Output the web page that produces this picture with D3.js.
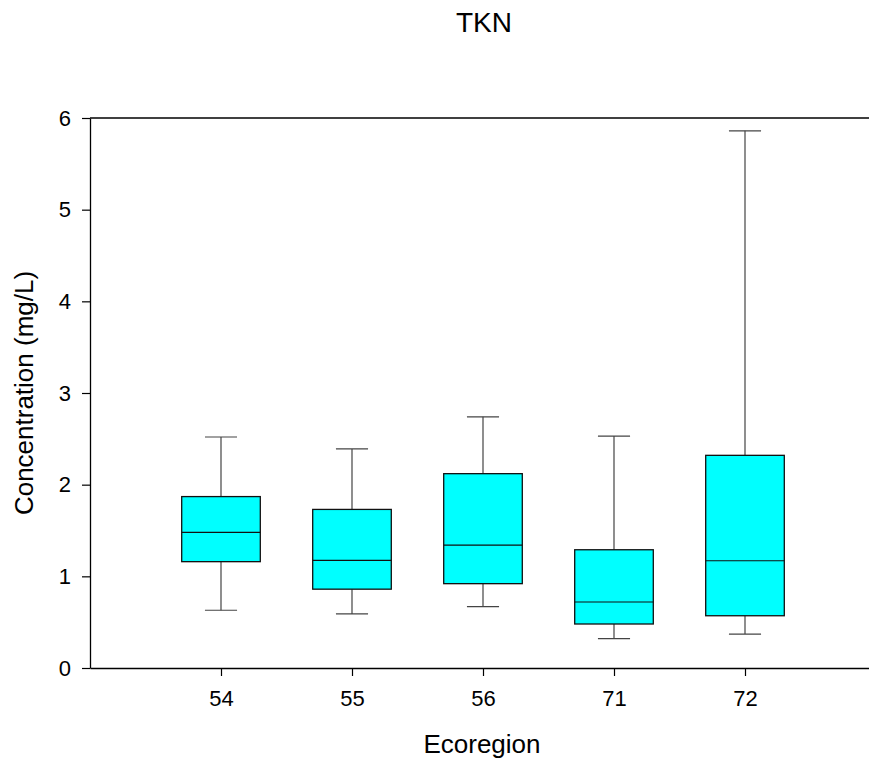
<!DOCTYPE html>
<html>
<head>
<meta charset="utf-8">
<script src="https://cdn.jsdelivr.net/npm/d3@7"></script>
<style>
  body { margin: 0; background: #fff; }
  svg text { font-family: Arial, "Liberation Sans", sans-serif; fill: #000; }
</style>
</head>
<body>
<svg id="chart" width="869" height="764"></svg>
<script>
// ecoregion boxes (mg/L)
var regions = ['54', '55', '56', '71', '72'];
var whiskerLow = [0.63, 0.59, 0.67, 0.32, 0.37];
var q1 = [1.16, 0.86, 0.92, 0.48, 0.57];
var median = [1.48, 1.175, 1.34, 0.72, 1.17];
var q3 = [1.87, 1.73, 2.12, 1.29, 2.32];
var whiskerHigh = [2.52, 2.39, 2.74, 2.53, 5.86];
var yTicks = [0, 1, 2, 3, 4, 5, 6];

var svg = d3.select('#chart');

// plot frame
var plotLeft = 90, plotTop = 118, plotBottom = 668;

var x = d3.scaleLinear().domain([0, 6]).range([plotLeft, plotLeft + 786]);
var y = d3.scaleLinear().domain([0, 6]).range([plotBottom, plotTop]);

var boxW = 0.6, capW = 0.245;

// title
svg.append('text')
  .attr('x', 484).attr('y', 25)
  .attr('text-anchor', 'middle')
  .attr('dominant-baseline', 'middle')
  .style('font-size', '28px')
  .text('TKN');

// top border line
svg.append('line')
  .attr('x1', plotLeft).attr('x2', x(6))
  .attr('y1', plotTop).attr('y2', plotTop)
  .attr('stroke', '#000').attr('stroke-width', 1.3);

// y axis
var yAxis = svg.append('g')
  .attr('transform', 'translate(' + plotLeft + ',0)')
  .call(d3.axisLeft(y).tickValues(yTicks).tickFormat(d3.format('d'))
    .tickSize(8).tickPadding(11).tickSizeOuter(0));

// x axis
var xAxis = svg.append('g')
  .attr('transform', 'translate(0,' + plotBottom + ')')
  .call(d3.axisBottom(x).tickValues([1, 2, 3, 4, 5])
    .tickFormat(function(d){ return regions[d - 1]; })
    .tickSize(8).tickPadding(14).tickSizeOuter(0));

[yAxis, xAxis].forEach(function(ax){
  ax.select('.domain').attr('stroke', '#000').attr('stroke-width', 1.3);
  ax.selectAll('.tick line').attr('stroke', '#000').attr('stroke-width', 1.2);
  ax.selectAll('.tick text').style('font-size', '22px').attr('fill', '#000');
});

// axis titles
svg.append('text')
  .attr('x', 482).attr('y', 746)
  .attr('text-anchor', 'middle')
  .attr('dominant-baseline', 'middle')
  .style('font-size', '26px')
  .text('Ecoregion');

svg.append('text')
  .attr('transform', 'translate(26,' + ((plotTop + plotBottom) / 2) + ') rotate(-90)')
  .attr('text-anchor', 'middle')
  .attr('dominant-baseline', 'middle')
  .style('font-size', '26px')
  .text('Concentration (mg/L)');

// boxes
var g = svg.append('g');
regions.forEach(function(r, i){
  var c = i + 1;
  var grp = g.append('g');

  // whiskers
  grp.append('line')
    .attr('x1', x(c)).attr('x2', x(c))
    .attr('y1', y(whiskerHigh[i])).attr('y2', y(q3[i]))
    .attr('stroke', '#444').attr('stroke-width', 1.2);
  grp.append('line')
    .attr('x1', x(c)).attr('x2', x(c))
    .attr('y1', y(q1[i])).attr('y2', y(whiskerLow[i]))
    .attr('stroke', '#444').attr('stroke-width', 1.2);

  // caps
  [whiskerHigh[i], whiskerLow[i]].forEach(function(v){
    grp.append('line')
      .attr('x1', x(c - capW / 2)).attr('x2', x(c + capW / 2))
      .attr('y1', y(v)).attr('y2', y(v))
      .attr('stroke', '#444').attr('stroke-width', 1.2);
  });

  // box
  grp.append('rect')
    .attr('x', x(c - boxW / 2))
    .attr('width', x(c + boxW / 2) - x(c - boxW / 2))
    .attr('y', y(q3[i]))
    .attr('height', y(q1[i]) - y(q3[i]))
    .attr('fill', '#00ffff')
    .attr('stroke', '#111').attr('stroke-width', 1.3);

  // median
  grp.append('line')
    .attr('x1', x(c - boxW / 2)).attr('x2', x(c + boxW / 2))
    .attr('y1', y(median[i])).attr('y2', y(median[i]))
    .attr('stroke', '#111').attr('stroke-width', 1.2);
});
</script>
</body>
</html>
